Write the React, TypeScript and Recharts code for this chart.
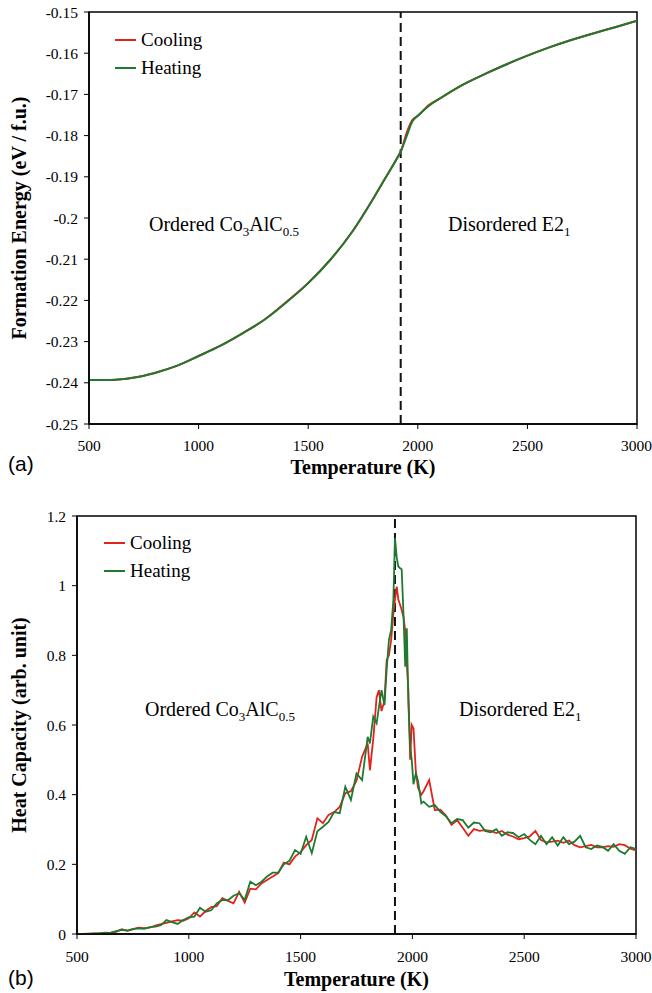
import React from 'react';
import { LineChart, Line, XAxis, YAxis, ReferenceLine, ReferenceArea, Legend } from 'recharts';

// (a) formation energy
const feTemps = [500, 600, 700, 800, 900, 1000, 1100, 1200, 1300, 1400, 1500, 1600, 1700, 1800, 1850, 1900, 1925, 1950, 1975, 2000, 2050, 2100, 2200, 2300, 2400, 2500, 2600, 2700, 2800, 2900, 3000];
const feCooling = [-0.2393, -0.2393, -0.2388, -0.2376, -0.2359, -0.2335, -0.231, -0.228, -0.2247, -0.2204, -0.2158, -0.2102, -0.2034, -0.195, -0.1905, -0.186, -0.1835, -0.1792, -0.1762, -0.1752, -0.1726, -0.171, -0.1678, -0.1652, -0.1628, -0.1606, -0.1586, -0.1568, -0.1552, -0.1537, -0.1521];
const feHeating = [-0.2393, -0.2393, -0.2388, -0.2376, -0.2359, -0.2335, -0.231, -0.228, -0.2247, -0.2205, -0.2158, -0.2102, -0.2034, -0.195, -0.1905, -0.186, -0.1835, -0.18, -0.1766, -0.1752, -0.1728, -0.171, -0.1678, -0.1652, -0.1628, -0.1606, -0.1586, -0.1568, -0.1552, -0.1537, -0.1521];

// (b) heat capacity
const hcTemps = [
  500, 525, 550, 575, 600, 625, 650, 675, 700, 725,
  750, 775, 800, 825, 850, 875, 900, 925, 950, 975,
  1000, 1025, 1050, 1075, 1100, 1125, 1150, 1175, 1200, 1225,
  1250, 1275, 1300, 1325, 1350, 1375, 1400, 1425, 1450, 1475,
  1500, 1525, 1550, 1575, 1600, 1625, 1650, 1675, 1700, 1725,
  1750, 1775, 1800, 1810, 1825, 1840, 1850, 1862, 1875, 1885,
  1895, 1905, 1915, 1922, 1930, 1937, 1945, 1952, 1960, 1968,
  1975, 1982, 1990, 1997, 2005, 2015, 2025, 2040, 2050, 2075,
  2100, 2125, 2150, 2175, 2200, 2225, 2250, 2275, 2300, 2325,
  2350, 2375, 2400, 2425, 2450, 2475, 2500, 2525, 2550, 2575,
  2600, 2625, 2650, 2675, 2700, 2725, 2750, 2775, 2800, 2825,
  2850, 2875, 2900, 2925, 2950, 2975, 3000,
];
const hcHeating = [
  0, 0, 0.001, 0.001, 0.002, 0.003, 0.004, 0.008, 0.012, 0.01,
  0.015, 0.016, 0.015, 0.02, 0.021, 0.025, 0.04, 0.034, 0.029, 0.04,
  0.048, 0.05, 0.075, 0.064, 0.068, 0.088, 0.098, 0.097, 0.11, 0.117,
  0.098, 0.15, 0.14, 0.15, 0.165, 0.176, 0.176, 0.2, 0.21, 0.241,
  0.23, 0.279, 0.232, 0.295, 0.308, 0.322, 0.35, 0.347, 0.423, 0.385,
  0.461, 0.442, 0.566, 0.547, 0.624, 0.605, 0.65, 0.7, 0.657, 0.76,
  0.844, 0.873, 0.96, 1.137, 1.08, 1.055, 1.05, 1.047, 0.92, 0.767,
  0.878, 0.662, 0.538, 0.5, 0.43, 0.46, 0.44, 0.375, 0.38, 0.365,
  0.37, 0.351, 0.338, 0.318, 0.33, 0.327, 0.305, 0.32, 0.318, 0.296,
  0.292, 0.301, 0.282, 0.292, 0.29, 0.278, 0.287, 0.27, 0.258, 0.282,
  0.258, 0.278, 0.254, 0.278, 0.258, 0.265, 0.282, 0.249, 0.244, 0.254,
  0.25, 0.239, 0.258, 0.239, 0.23, 0.249, 0.244,
];
const hcCooling = [
  0, 0, 0, 0.002, 0.002, 0.004, 0.003, 0.006, 0.014, 0.009,
  0.013, 0.018, 0.017, 0.018, 0.024, 0.028, 0.032, 0.036, 0.04, 0.038,
  0.045, 0.062, 0.05, 0.066, 0.077, 0.08, 0.103, 0.095, 0.088, 0.121,
  0.09, 0.13, 0.128, 0.145, 0.155, 0.165, 0.175, 0.205, 0.2, 0.222,
  0.235, 0.255, 0.27, 0.332, 0.318, 0.342, 0.35, 0.365, 0.404, 0.41,
  0.44, 0.509, 0.547, 0.47, 0.56, 0.68, 0.7, 0.64, 0.67, 0.787,
  0.8, 0.844, 0.92, 0.96, 0.997, 0.96, 0.945, 0.93, 0.911, 0.87,
  0.777, 0.7, 0.5, 0.6, 0.59, 0.47, 0.42, 0.4, 0.41, 0.442,
  0.356, 0.357, 0.34, 0.313, 0.327, 0.305, 0.282, 0.301, 0.296, 0.298,
  0.296, 0.29, 0.296, 0.285, 0.28, 0.272, 0.275, 0.28, 0.296, 0.27,
  0.263, 0.265, 0.268, 0.262, 0.268, 0.255, 0.249, 0.252, 0.256, 0.249,
  0.249, 0.252, 0.25, 0.258, 0.255, 0.245, 0.24,
];

const xTicks = [500, 1000, 1500, 2000, 2500, 3000];
const feTicks = [-0.25, -0.24, -0.23, -0.22, -0.21, -0.2, -0.19, -0.18, -0.17, -0.16, -0.15];
const hcTicks = [0, 0.2, 0.4, 0.6, 0.8, 1, 1.2];
const transitionT = 1922;

const RED = '#e2231c';
const GREEN = '#1e7a30';
const SERIF = '"Liberation Serif", "Times New Roman", serif';

const feData = feTemps.map((t, i) => ({ T: t, cooling: feCooling[i], heating: feHeating[i] }));
const hcData = hcTemps.map((t, i) => ({ T: t, cooling: hcCooling[i], heating: hcHeating[i] }));

const fmt = (v: number) => String(Number(v.toFixed(2)));

const tickStyle = { fill: '#000', fontSize: 15.5, fontFamily: SERIF };
const titleStyle = { fill: '#000', fontSize: 20, fontWeight: 'bold', fontFamily: SERIF, textAnchor: 'middle' } as any;

const renderLegend = (props: any) => (
  <div style={{ fontFamily: SERIF, fontSize: 19, color: '#000' }}>
    {props.payload.map((entry: any) => (
      <div key={entry.value} style={{ display: 'flex', alignItems: 'center', height: 28 }}>
        <span style={{ display: 'inline-block', width: 21, height: 2, background: entry.color, marginRight: 5 }} />
        <span>{entry.value}</span>
      </div>
    ))}
  </div>
);

const sub = { fontSize: 13, position: 'relative', top: 5, lineHeight: 0 } as any;

function Phase({ left, top, ordered }: { left: number; top: number; ordered: boolean }) {
  return (
    <div style={{ position: 'absolute', left, top, fontFamily: SERIF, fontSize: 20, lineHeight: 1, whiteSpace: 'nowrap', color: '#000' }}>
      {ordered ? (
        <>Ordered Co<span style={sub}>3</span>AlC<span style={sub}>0.5</span></>
      ) : (
        <>Disordered E2<span style={sub}>1</span></>
      )}
    </div>
  );
}

const panelTag = { position: 'absolute', left: 8, fontFamily: '"Liberation Sans", Arial, sans-serif', fontSize: 21, color: '#000' } as any;

export default function App() {
  return (
    <div style={{ position: 'absolute', left: 0, top: 0, width: 652, height: 993, background: '#fff' }}>
      <div style={{ position: 'absolute', left: 0, top: 0 }}>
        <LineChart width={652} height={480} data={feData} margin={{ top: 12, right: 15, bottom: 0, left: 0 }}>
          <XAxis
            dataKey="T" type="number" domain={[500, 3000]} ticks={xTicks} allowDataOverflow
            height={56} tickSize={5} tickMargin={11}
            axisLine={{ stroke: '#000', strokeWidth: 1.5 }} tickLine={{ stroke: '#000' }} tick={tickStyle}
            label={{ value: 'Temperature (K)', position: 'insideBottom', offset: 6, style: titleStyle }}
          />
          <YAxis
            type="number" domain={[-0.25, -0.15]} ticks={feTicks} allowDataOverflow
            width={89} tickSize={5} tickMargin={6} tickFormatter={fmt}
            axisLine={{ stroke: '#000', strokeWidth: 1.5 }} tickLine={{ stroke: '#000' }} tick={tickStyle}
            label={{ value: 'Formation Energy (eV / f.u.)', angle: -90, position: 'insideLeft', offset: 19, style: titleStyle }}
          />
          <ReferenceArea x1={500} x2={3000} y1={-0.25} y2={-0.15} fill="none" stroke="#000" strokeWidth={1.5} ifOverflow="visible" />
          <ReferenceLine x={transitionT} stroke="#111" strokeWidth={2} strokeDasharray="9 5" />
          <Legend layout="horizontal" verticalAlign="middle" align="center" content={renderLegend}
            wrapperStyle={{ left: 115, top: 26, width: 120, height: 56 }} />
          <Line type="monotone" dataKey="cooling" name="Cooling" stroke={RED} strokeWidth={2} dot={false} isAnimationActive={false} />
          <Line type="monotone" dataKey="heating" name="Heating" stroke={GREEN} strokeWidth={2} dot={false} isAnimationActive={false} />
        </LineChart>
        <Phase left={149} top={214} ordered />
        <Phase left={448} top={214} ordered={false} />
        <div style={{ ...panelTag, top: 452 }}>(a)</div>
      </div>

      <div style={{ position: 'absolute', left: 0, top: 480 }}>
        <LineChart width={652} height={513} data={hcData} margin={{ top: 36, right: 16, bottom: 0, left: 0 }}>
          <XAxis
            dataKey="T" type="number" domain={[500, 3000]} ticks={xTicks} allowDataOverflow
            height={59} tickSize={5} tickMargin={12}
            axisLine={{ stroke: '#000', strokeWidth: 1.5 }} tickLine={{ stroke: '#000' }} tick={tickStyle}
            label={{ value: 'Temperature (K)', position: 'insideBottom', offset: 7, style: titleStyle }}
          />
          <YAxis
            type="number" domain={[0, 1.2]} ticks={hcTicks} allowDataOverflow
            width={77} tickSize={5} tickMargin={6} tickFormatter={fmt}
            axisLine={{ stroke: '#000', strokeWidth: 1.5 }} tickLine={{ stroke: '#000' }} tick={tickStyle}
            label={{ value: 'Heat Capacity (arb. unit)', angle: -90, position: 'insideLeft', offset: 19, style: titleStyle }}
          />
          <ReferenceArea x1={500} x2={3000} y1={0} y2={1.2} fill="none" stroke="#000" strokeWidth={1.5} ifOverflow="visible" />
          <ReferenceLine x={transitionT} stroke="#111" strokeWidth={2} strokeDasharray="9 5" />
          <Legend layout="horizontal" verticalAlign="middle" align="center" content={renderLegend}
            wrapperStyle={{ left: 104, top: 49, width: 120, height: 56 }} />
          <Line type="linear" dataKey="cooling" name="Cooling" stroke={RED} strokeWidth={1.8} dot={false} isAnimationActive={false} />
          <Line type="linear" dataKey="heating" name="Heating" stroke={GREEN} strokeWidth={1.8} dot={false} isAnimationActive={false} />
        </LineChart>
        <Phase left={145} top={219} ordered />
        <Phase left={459} top={219} ordered={false} />
        <div style={{ ...panelTag, top: 486 }}>(b)</div>
      </div>
    </div>
  );
}
